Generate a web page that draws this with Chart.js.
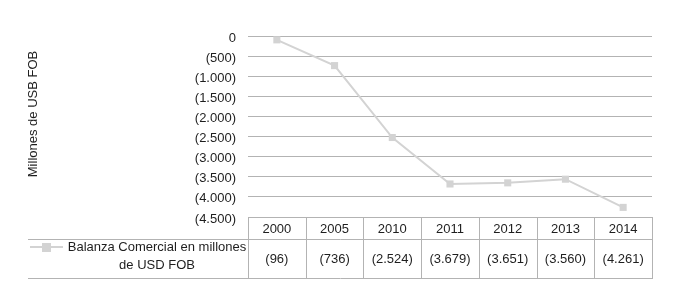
<!DOCTYPE html>
<html>
<head>
<meta charset="utf-8">
<script src="https://cdn.jsdelivr.net/npm/chart.js@4.4.1/dist/chart.umd.min.js"></script>
<style>
html,body{margin:0;padding:0;background:#fff;}
#wrap{width:673px;height:288px;position:relative;}
</style>
</head>
<body>
<div id="wrap"><canvas id="c" width="673" height="288"></canvas></div>
<script>
const categories = ['2000','2005','2010','2011','2012','2013','2014'];
const balanza = [-96, -736, -2524, -3679, -3651, -3560, -4261];
const seriesName = ['Balanza Comercial en millones', 'de USD FOB'];
const yTitle = 'Millones de USB FOB';
const yMin = -4500, yMax = 0, yStep = 500;

const FONT = '"Liberation Sans", Arial, sans-serif';
const GRID = '#b3b3b3';
const TEXT = '#1e1e1e';
const SERIES = '#d3d3d3';

function fmt(v){
  if (v === 0) return '0';
  const s = String(Math.abs(Math.round(v))).replace(/\B(?=(\d{3})+(?!\d))/g, '.');
  return v < 0 ? '(' + s + ')' : s;
}

const tablePlugin = {
  id: 'dataTable',
  afterDraw(chart){
    const ctx = chart.ctx;
    const a = chart.chartArea;
    const xs = chart.scales.x;
    const n = categories.length;
    const colW = (a.right - a.left) / n;
    const top = a.bottom;
    const mid = top + 22;
    const bot = top + 61;
    const legLeft = 28;
    ctx.save();
    ctx.strokeStyle = GRID;
    ctx.lineWidth = 1;
    ctx.beginPath();
    ctx.moveTo(a.left, Math.round(top) + 0.5); ctx.lineTo(a.right + 1, Math.round(top) + 0.5);
    ctx.moveTo(legLeft, Math.round(mid) + 0.5); ctx.lineTo(a.right + 1, Math.round(mid) + 0.5);
    ctx.moveTo(legLeft, Math.round(bot) + 0.5); ctx.lineTo(a.right + 1, Math.round(bot) + 0.5);
    for (let i = 0; i <= n; i++){
      const x = Math.round(a.left + i * colW) + 0.5;
      ctx.moveTo(x, Math.round(top)); ctx.lineTo(x, Math.round(bot));
    }
    ctx.stroke();
    ctx.fillStyle = TEXT;
    ctx.font = '13px ' + FONT;
    ctx.textAlign = 'center';
    ctx.textBaseline = 'middle';
    categories.forEach((c, i) => {
      const x = xs.getPixelForValue(i);
      ctx.fillText(c, x, (top + mid) / 2 + 1);
      ctx.fillText(fmt(balanza[i]), x, (mid + bot) / 2 + 1);
    });
    // legend cell
    const ly = mid + 8;
    ctx.strokeStyle = SERIES;
    ctx.lineWidth = 2;
    ctx.beginPath(); ctx.moveTo(30, ly); ctx.lineTo(63, ly); ctx.stroke();
    ctx.fillStyle = SERIES;
    ctx.fillRect(42, ly - 4, 9, 9);
    ctx.fillStyle = TEXT;
    ctx.fillText(seriesName[0], 157, ly);
    ctx.fillText(seriesName[1], 157, ly + 18);
    // y axis title
    ctx.save();
    ctx.translate(33, 114);
    ctx.rotate(-Math.PI / 2);
    ctx.fillText(yTitle, 0, 0);
    ctx.restore();
    ctx.restore();
  }
};

new Chart(document.getElementById('c'), {
  type: 'line',
  data: {
    labels: categories,
    datasets: [{
      label: seriesName.join(' '),
      data: balanza,
      borderColor: SERIES,
      backgroundColor: SERIES,
      borderWidth: 2,
      pointStyle: 'rect',
      pointRadius: 5,
      pointHoverRadius: 5,
      pointBorderWidth: 0,
      tension: 0
    }]
  },
  options: {
    responsive: false,
    animation: false,
    events: [],
    layout: { padding: { left: 0, right: 21, top: 36, bottom: 71 } },
    plugins: { legend: { display: false }, tooltip: { enabled: false } },
    scales: {
      x: {
        type: 'category',
        offset: true,
        grid: { display: false, drawTicks: false },
        border: { display: false },
        ticks: { display: false },
        afterFit(s){ s.height = 0; }
      },
      y: {
        min: yMin, max: yMax,
        afterFit(s){ s.width = 248; },
        grid: { color: GRID, lineWidth: 1, drawTicks: false },
        border: { display: false },
        ticks: {
          stepSize: yStep,
          padding: 12,
          labelOffset: 2,
          color: TEXT,
          font: { family: FONT, size: 13 },
          callback: v => fmt(v)
        },
        title: { display: false }
      }
    }
  },
  plugins: [tablePlugin]
});
</script>
</body>
</html>
